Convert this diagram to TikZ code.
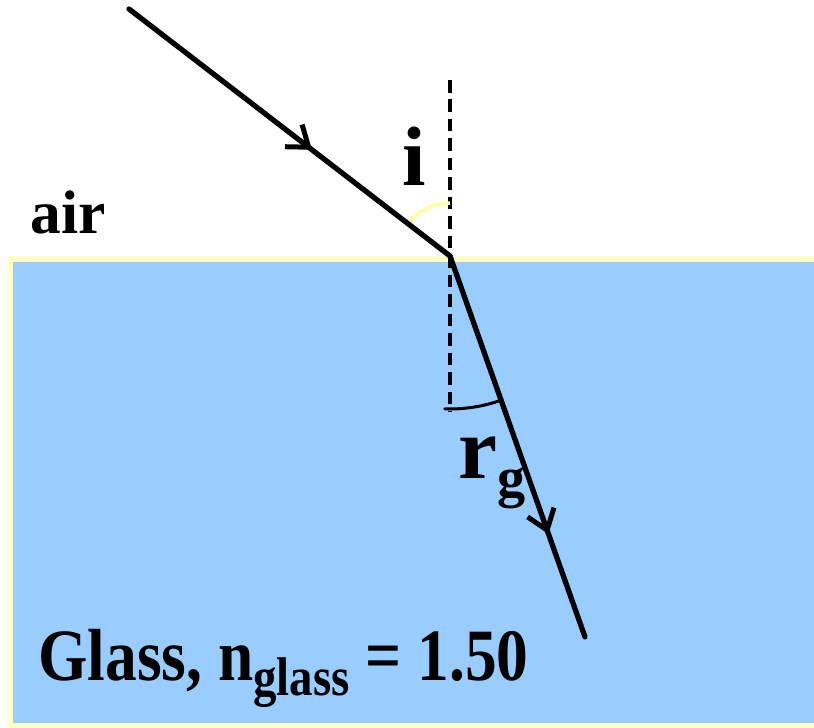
\documentclass[tikz,border=0pt]{standalone}
\usepackage{fontspec}
\setmainfont{Liberation Serif}
\usetikzlibrary{arrows.meta,decorations.markings}
\definecolor{glassblue}{HTML}{99CCFF}
\definecolor{paleyellow}{HTML}{FFFFC8}

\begin{document}
\begin{tikzpicture}[x=0.02cm, y=-0.02cm, line cap=round, line join=round,
  every node/.style={inner sep=0pt, font=\bfseries},
  ray/.style={line width=0.105cm},
  normal/.style={line width=0.07cm, dash pattern=on 0.25cm off 0.14cm, line cap=butt},
  midarrow/.style={postaction={decorate, decoration={markings,
    mark=at position #1 with {\arrow{Straight Barb[length=0.38cm, width=0.56cm, line width=0.1cm]}}}}}]
  \path[use as bounding box] (0,0) rectangle (814,727);
  % pixel grid of the reference, y down
  \fill[glassblue] (10,259) rectangle (840,726);
  \draw[paleyellow, line width=0.12cm] (840,259) -- (10,259) -- (10,726) -- (840,726);
  \coordinate (src) at (129,9);
  \coordinate (hit) at (450,256);
  \coordinate (exit) at (585,637);
  \coordinate (ntop) at (450,80);
  \coordinate (nbot) at (450,412);
  \draw[normal] (ntop) -- (nbot);
  \draw[paleyellow!80!yellow, line width=0.07cm, line cap=butt]
    (hit) ++(90:1.06cm) arc[start angle=90, end angle=142.5, radius=1.06cm];
  \draw[line width=0.06cm]
    (hit) ++(-92:3.06cm) arc[start angle=-92, end angle=-70.5, radius=3.06cm];
  \draw[ray, midarrow=0.57] (src) -- (hit);
  \draw[ray, midarrow=0.73] (hit) -- (exit);
  \node[anchor=base west] (air) at (30,233) {\fontsize{35}{35}\selectfont air};
  \node[anchor=base] (ilab) at (414,185) {\fontsize{48}{48}\selectfont i};
  \node[anchor=base west] (rlab) at (458,478)
    {\fontsize{50}{50}\selectfont r\raisebox{-0.36cm}{\fontsize{32}{32}\selectfont g}};
  \node[anchor=base west, xscale=0.86] (glass) at (38,680)
    {\fontsize{42}{42}\selectfont Glass, n\raisebox{-0.3cm}{\fontsize{31}{31}\selectfont glass} = 1.50};
\end{tikzpicture}
\end{document}
